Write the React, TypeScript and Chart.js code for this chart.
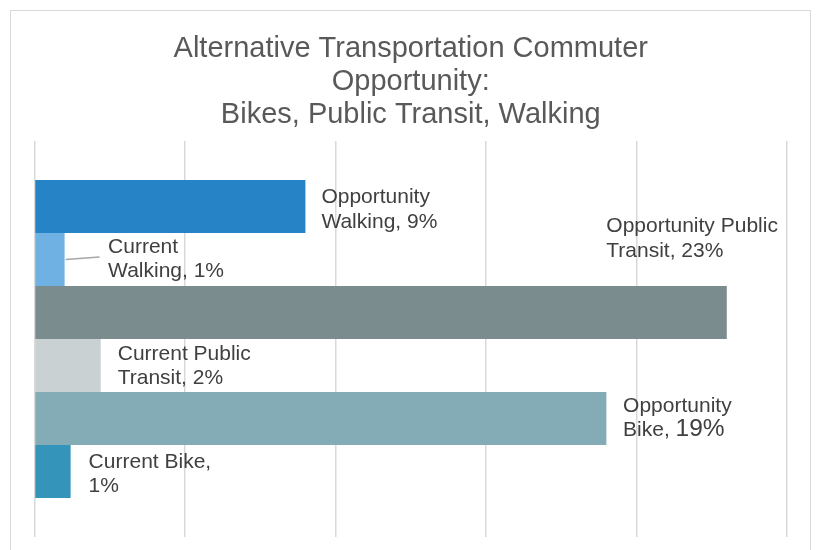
import React, { useEffect, useRef } from "react";
import { Chart, registerables } from "chart.js";

Chart.register(...registerables);

const titleLines = [
  "Alternative Transportation Commuter",
  "Opportunity:",
  "Bikes, Public Transit, Walking",
];

const seriesNames = [
  "Opportunity Walking",
  "Current Walking",
  "Opportunity Public Transit",
  "Current Public Transit",
  "Opportunity Bike",
  "Current Bike",
];

const seriesValues = [9, 1.0, 23, 2.2, 19, 1.2];

const labelTexts = [
  ["Opportunity", "Walking, 9%"],
  ["Current", "Walking, 1%"],
  ["Opportunity Public", "Transit, 23%"],
  ["Current Public", "Transit, 2%"],
  ["Opportunity", "Bike, |19%"],
  ["Current Bike,", "1%"],
];

const seriesColors = ["#2683C6", "#6EB1E2", "#7A8C8E", "#C9D1D3", "#84ACB6", "#3494BA"];

// label offsets (dx from bar end, dy of first baseline from bar centre) - styling only
const labelOffsets = [
  { dx: 16, dy: -3.5 },
  { dx: 43.5, dy: -7 },
  { dx: -120.5, dy: -80.5 },
  { dx: 17, dy: -5.5 },
  { dx: 16.7, dy: -6.5 },
  { dx: 18, dy: -3.5 },
];

const FONT = "'Liberation Sans', Arial, sans-serif";

const framePlugin = {
  id: "frame",
  beforeDraw(chart: any) {
    const ctx = chart.ctx;
    ctx.save();
    ctx.strokeStyle = "#D9D9D9";
    ctx.lineWidth = 1;
    ctx.strokeRect(10.5, 10.5, 800, 600);
    ctx.restore();
  },
};

const labelPlugin = {
  id: "barLabels",
  afterDatasetsDraw(chart: any) {
    const ctx = chart.ctx;
    ctx.save();
    ctx.fillStyle = "#404040";
    ctx.textBaseline = "alphabetic";
    ctx.textAlign = "left";
    chart.data.datasets.forEach((ds: any, i: number) => {
      const meta = chart.getDatasetMeta(i);
      const el = meta.data[0];
      if (!el) return;
      const off = labelOffsets[i];
      const x0 = el.x + off.dx;
      const y0 = el.y + off.dy;
      if (i === 1) {
        ctx.strokeStyle = "#A6A6A6";
        ctx.lineWidth = 1.5;
        ctx.beginPath();
        ctx.moveTo(el.x + 1, el.y);
        ctx.lineTo(el.x + 35, el.y - 2.5);
        ctx.stroke();
      }
      labelTexts[i].forEach((line, j) => {
        const y = y0 + j * 24.5;
        const parts = line.split("|");
        let x = x0;
        parts.forEach((p, k) => {
          ctx.font = `${k === 0 ? 21 : 24.5}px ${FONT}`;
          ctx.fillText(p, x, y);
          x += ctx.measureText(p).width;
        });
      });
    });
    ctx.restore();
  },
};

export default function App() {
  const ref = useRef<HTMLCanvasElement | null>(null);
  useEffect(() => {
    if (!ref.current) return;
    const chart = new Chart(ref.current, {
      type: "bar",
      data: {
        labels: [""],
        datasets: seriesNames.map((name, i) => ({
          label: name,
          data: [seriesValues[i]],
          backgroundColor: seriesColors[i],
          borderWidth: 0,
          categoryPercentage: 0.803,
          barPercentage: 1,
        })),
      },
      options: {
        indexAxis: "y",
        animation: false,
        responsive: false,
        maintainAspectRatio: false,
        layout: { padding: { left: 34.5, right: 30, top: 0, bottom: 13 } },
        plugins: {
          legend: { display: false },
          tooltip: { enabled: false },
          title: {
            display: true,
            text: titleLines,
            color: "#595959",
            font: { family: FONT, size: 29, weight: "normal", lineHeight: 33 / 29 },
            padding: { top: 32.2, bottom: 9.8 },
          },
        },
        scales: {
          x: {
            min: 0,
            max: 25,
            ticks: { display: false, stepSize: 5 },
            grid: { color: "#D9D9D9", lineWidth: 1.5, drawTicks: false },
            border: { display: false },
          },
          y: {
            display: false,
          },
        },
      },
      plugins: [framePlugin, labelPlugin],
    });
    return () => chart.destroy();
  }, []);
  return (
    <div style={{ position: "fixed", left: 0, top: 0, width: 817, height: 550, background: "#fff" }}>
      <canvas ref={ref} width={817} height={550} style={{ width: 817, height: 550, display: "block" }} />
    </div>
  );
}
